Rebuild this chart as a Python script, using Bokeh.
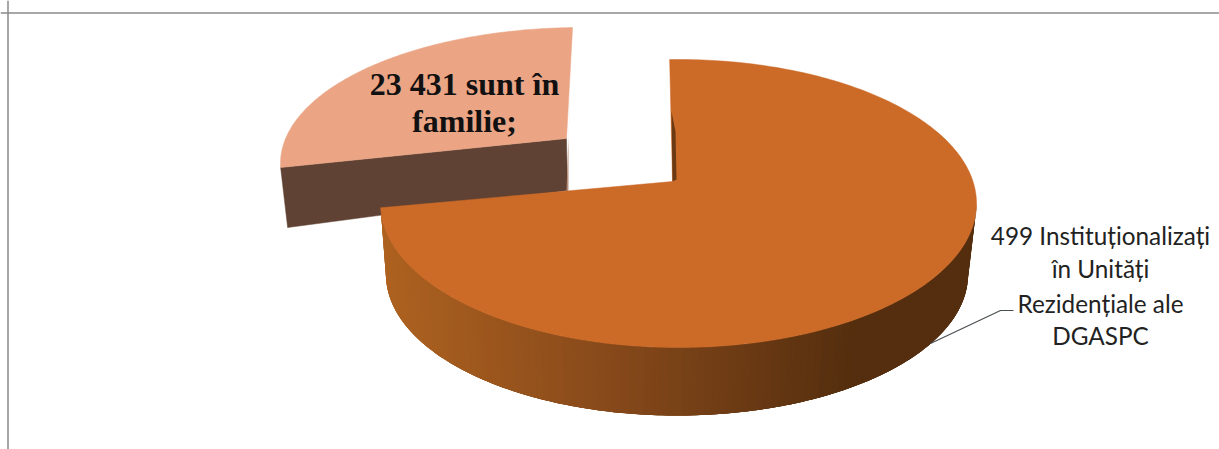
import math
from bokeh.plotting import figure
from bokeh.models import Range1d, Span, ColumnDataSource
from bokeh.core.properties import value
from bokeh.embed import file_html
from bokeh.resources import INLINE

# Data
categories = ["Institutionalizati", "In familie"]
shares = [75.0, 25.0]  # percent of the circle, estimated from the drawn slices
main_label_lines = ["499 Institu\u021Bionaliza\u021Bi", "\u00EEn Unit\u0103\u021Bi", "Reziden\u021Biale ale", "DGASPC"]
family_label_lines = ["23 431 sunt \u00EEn", "familie;"]

# Layout constants: picture pixels
W, H = 1219, 449
START_ANGLE = -1.7
MAIN_TOP = dict(cx=678, cy=203, rx=298, ry=144)
MAIN_BOT = dict(cx=676.5, cy=274, rx=291, ry=141)
MAIN_APEX = (672, 181)
FAM_TOP = dict(cx=581, cy=163, rx=301, ry=136)
FAM_APEX = (566, 138)
FAM_DROP = (1, 52)
FAM_LEFT_DROP = (7, 60)

COL_MAIN = "#CC6A28"
COL_FAM = "#EBA585"
COL_FAM_SIDE = "#5F4233"
STOPS = [(385, (174, 98, 32)), (620, (133, 72, 26)), (850, (84, 46, 14)), (970, (84, 46, 14))]


def pt(e, deg):
    r = math.radians(deg)
    return e["cx"] + e["rx"] * math.sin(r), e["cy"] - e["ry"] * math.cos(r)


def arc(e, a0, a1, n=160):
    return [pt(e, a0 + (a1 - a0) * i / n) for i in range(n + 1)]


def shade(x):
    for (x0, c0), (x1, c1) in zip(STOPS, STOPS[1:]):
        if x <= x1:
            f = max(0.0, (x - x0) / (x1 - x0))
            return "#%02x%02x%02x" % tuple(round(a + (b - a) * f) for a, b in zip(c0, c1))
    return "#%02x%02x%02x" % STOPS[-1][1]


main_sweep = shares[0] / 100 * 360
main_end = START_ANGLE + main_sweep
fam_sweep = shares[1] / 100 * 360
fam_end = main_end + fam_sweep

p = figure(width=W, height=H, x_range=Range1d(0, W), y_range=Range1d(H, 0),
           output_backend="svg", toolbar_location=None, min_border=0,
           x_axis_location=None, y_axis_location=None, background_fill_color="white",
           border_fill_color="white", outline_line_color=None)
p.grid.visible = False

# frame lines (top and left only)
p.add_layout(Span(location=12.5, dimension="width", line_color="#8a8a8a", line_width=1.5))
p.add_layout(Span(location=7.5, dimension="height", line_color="#8a8a8a", line_width=1.5))

# exploded slice
f_arc = arc(FAM_TOP, main_end, fam_end)
left = f_arc[0]
p.patch([left[0], FAM_APEX[0], FAM_APEX[0] + FAM_DROP[0], left[0] + FAM_LEFT_DROP[0]],
        [left[1], FAM_APEX[1], FAM_APEX[1] + FAM_DROP[1], left[1] + FAM_LEFT_DROP[1]],
        fill_color=COL_FAM_SIDE, line_color=COL_FAM_SIDE, line_width=0.5)
top = f_arc[-1]
p.patch([top[0], FAM_APEX[0] + 2, FAM_APEX[0] + 2, FAM_APEX[0]],
        [top[1], FAM_APEX[1], FAM_APEX[1] + FAM_DROP[1], FAM_APEX[1] + FAM_DROP[1]],
        fill_color="#B98E78", line_color=None)
p.patch([q[0] for q in f_arc] + [FAM_APEX[0]], [q[1] for q in f_arc] + [FAM_APEX[1]],
        fill_color=COL_FAM, line_color=COL_FAM, line_width=0.5)

# main slice: side bands, shaded across x; each band runs under the next to avoid seams
xs, ys, cols = [], [], []
N = 120
side_a0, side_a1 = 90.0, main_end
step = (side_a1 - side_a0) / N
for i in range(N):
    a = side_a0 + step * i
    b = min(side_a1, a + step * 4)
    top_edge = arc(MAIN_TOP, a, b, 6)
    bot_edge = arc(MAIN_BOT, a, b, 6)
    xs.append([q[0] for q in top_edge] + [q[0] for q in reversed(bot_edge)])
    ys.append([q[1] for q in top_edge] + [q[1] for q in reversed(bot_edge)])
    cols.append(shade(pt(MAIN_BOT, a + step / 2)[0]))
p.patches("xs", "ys", source=ColumnDataSource(dict(xs=xs, ys=ys, c=cols)),
          fill_color="c", line_color=None)

# main slice: top face
m_arc = arc(MAIN_TOP, START_ANGLE, main_end, 300)
p.patch([q[0] for q in m_arc] + [MAIN_APEX[0]], [q[1] for q in m_arc] + [MAIN_APEX[1]],
        fill_color=COL_MAIN, line_color=COL_MAIN, line_width=0.5)

# dark inner wall sliver next to the cut
p.patch([MAIN_APEX[0] - 1, MAIN_APEX[0], MAIN_APEX[0] + 4, MAIN_APEX[0] + 3],
        [MAIN_APEX[1] - 70, MAIN_APEX[1], MAIN_APEX[1] - 2, MAIN_APEX[1] - 50],
        fill_color="#6A3A14", line_color=None)

# leader line
p.line([930, 1000, 1013], [343, 310, 310], line_color="#4a4f52", line_width=1.2)

# labels
p.text(x=[464, 464], y=[83, 120], text=family_label_lines, text_align="center",
       text_baseline="middle", text_font=value("Liberation Serif"), text_font_style="bold",
       text_font_size=value("32px"), text_color="#111111")
p.text(x=[1100, 1100, 1100, 1100], y=[235, 268, 303, 335], text=main_label_lines, text_align="center",
       text_baseline="middle", text_font=value("Lato"),
       text_font_size=value("24.3px"), text_color="#222222")

open("out.html", "w").write(file_html(p, INLINE))
